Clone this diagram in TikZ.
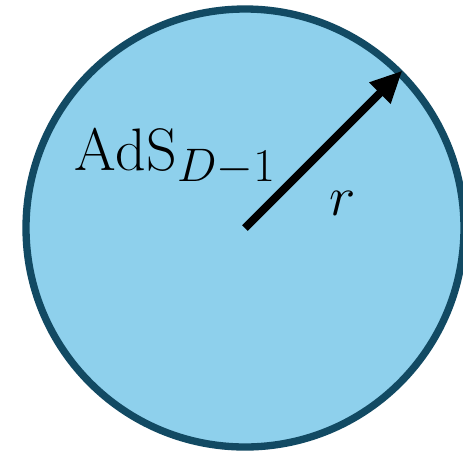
\RequirePackage{fix-cm}
\documentclass[tikz,border=0pt]{standalone}
\usepackage{amsmath}
\usetikzlibrary{arrows.meta}
\definecolor{adsfill}{HTML}{8ED0EC}
\definecolor{adsrim}{HTML}{124A63}

\begin{document}
\begin{tikzpicture}[x=0.75pt,y=-0.75pt,>={Triangle[length=24pt,width=21pt]}]
        \useasboundingbox (0,0) rectangle (463,451);
        \node[circle,draw=adsrim,fill=adsfill,line width=5.5pt,inner sep=0pt,minimum size=328.5pt] (disk) at (245,228) {};
        \node[anchor=base west,inner sep=0pt,font=\fontsize{45}{50}\selectfont] (ads) at (74,170) {$\mathrm{AdS}_{\scalebox{1.12}{$\scriptstyle D-1$}}$};
        \node[inner sep=0pt,font=\fontsize{42}{46}\selectfont] (rlabel) at (343,203) {$r$};
        \draw[->,line width=6pt] (disk.center) -- (disk.45);
    \end{tikzpicture}
\end{document}
